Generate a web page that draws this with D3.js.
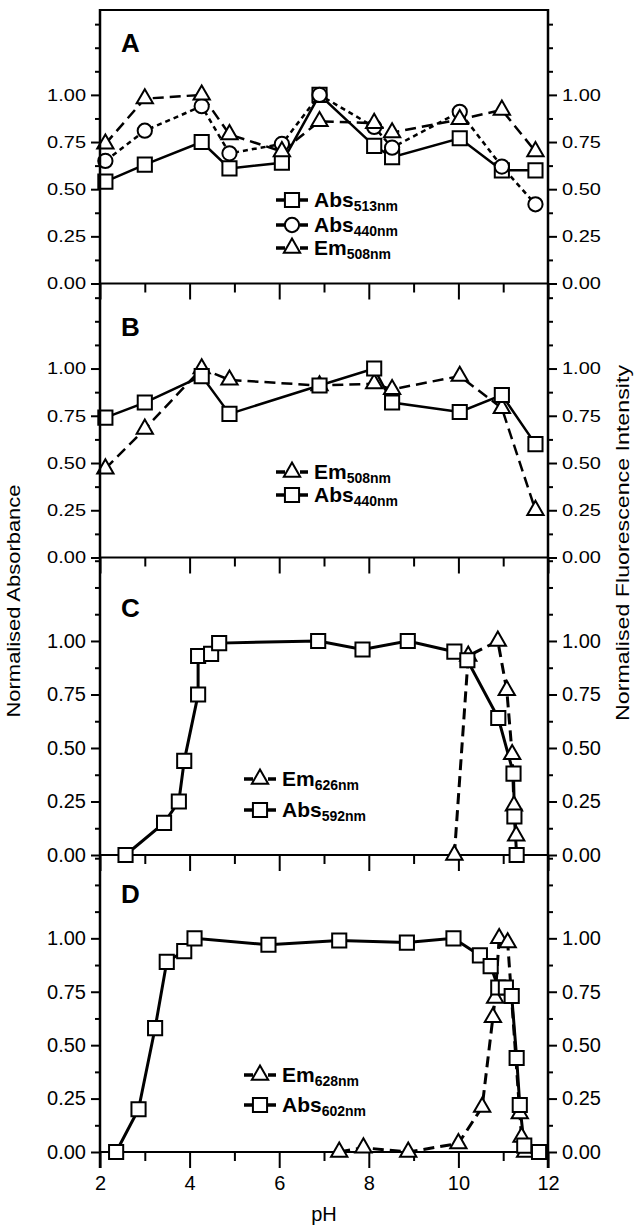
<!DOCTYPE html>
<html lang="en">
<head>
<meta charset="utf-8">
<title>pH profiles</title>
<script src="https://cdn.jsdelivr.net/npm/d3@7"></script>
<style>
  body { margin: 0; background: #fff; }
  svg text { font-family: "Liberation Sans", Arial, sans-serif; fill: #000; }
</style>
</head>
<body>
<div id="chart"></div>
<script>
// ---- values ----
var xTickValues = [2, 4, 6, 8, 10, 12];
var xMinorValues = [3, 5, 7, 9, 11];
var yTickValues = [0, 0.25, 0.5, 0.75, 1.0];

// panel A
var phA = [2.12, 3.0, 4.27, 4.89, 6.06, 6.9, 8.12, 8.52, 10.03, 10.97, 11.72];
var absA513 = [0.54, 0.63, 0.75, 0.61, 0.64, 1.00, 0.73, 0.67, 0.77, 0.60, 0.60];
var absA440 = [0.65, 0.81, 0.94, 0.69, 0.74, 1.00, 0.83, 0.72, 0.91, 0.62, 0.42];
var emA508 = [0.74, 0.98, 1.00, 0.79, 0.70, 0.86, 0.85, 0.80, 0.87, 0.92, 0.70];

// panel B
var phB = [2.12, 3.0, 4.27, 4.89, 6.9, 8.12, 8.52, 10.03, 10.97, 11.72];
var emB508 = [0.47, 0.68, 1.00, 0.94, 0.91, 0.92, 0.89, 0.96, 0.79, 0.25];
var absB440 = [0.74, 0.82, 0.96, 0.76, 0.91, 1.00, 0.82, 0.77, 0.86, 0.60];

// panel C
var phCabs = [2.57, 3.43, 3.76, 3.88, 4.19, 4.19, 4.48, 4.66, 6.87, 7.86, 8.87, 9.91, 10.2, 10.89, 11.23, 11.25, 11.3];
var absC592 = [0, 0.15, 0.25, 0.44, 0.75, 0.93, 0.94, 0.99, 1.0, 0.96, 1.0, 0.95, 0.91, 0.64, 0.38, 0.18, 0];
var phCem = [9.91, 10.22, 10.88, 11.08, 11.2, 11.24, 11.29];
var emC626 = [0, 0.93, 1.0, 0.77, 0.47, 0.23, 0.09];

// panel D
var phDabs = [2.36, 2.86, 3.23, 3.49, 3.88, 4.11, 5.76, 7.34, 8.85, 9.89, 10.48, 10.72, 10.89, 11.06, 11.19, 11.3, 11.37, 11.47, 11.8];
var absD602 = [0, 0.20, 0.58, 0.89, 0.94, 1.0, 0.97, 0.99, 0.98, 1.0, 0.92, 0.87, 0.77, 0.77, 0.73, 0.44, 0.22, 0.03, 0];
var phDem = [7.34, 7.88, 8.88, 10.0, 10.53, 10.77, 10.82, 10.91, 11.1, 11.37, 11.41, 11.49];
var emD628 = [0, 0.02, 0, 0.04, 0.21, 0.63, 0.72, 1.0, 0.98, 0.18, 0.07, 0];

// ---- layout ----
var W = 634, H = 1229;
var xLeft = 100, xRight = 548;

var svg = d3.select("#chart").append("svg")
  .attr("width", W).attr("height", H);

var x = d3.scaleLinear().domain([2, 12]).range([xLeft, xRight]);

// line styles
var SOLID = null, SHORT = "5,4", LONG = "11,6";
var symbols = { square: d3.symbolSquare, circle: d3.symbolCircle, triangle: d3.symbolTriangle };
var symSize = { square: 200, circle: 160, triangle: 115 };

function zip(xs, ys) { return xs.map(function(v, i) { return [v, ys[i]]; }); }

var panels = [
  { label: "A", top: 10, bottom: 283.5, yMax: 1.45, tickSy: 0.82, letterY: 52, lw: 2.5,
    legendX: 292, legendY: [200, 225, 248],
    series: [
      { name: "Abs", sub: "513nm", sym: "square", dash: SOLID, pts: zip(phA, absA513) },
      { name: "Abs", sub: "440nm", sym: "circle", dash: SHORT, pts: zip(phA, absA440) },
      { name: "Em", sub: "508nm", sym: "triangle", dash: LONG, pts: zip(phA, emA508) }
    ] },
  { label: "B", top: 283.5, bottom: 557.5, yMax: 1.45, tickSy: 0.82, letterY: 336, lw: 2.5,
    legendX: 292, legendY: [472, 495],
    series: [
      { name: "Em", sub: "508nm", sym: "triangle", dash: LONG, pts: zip(phB, emB508) },
      { name: "Abs", sub: "440nm", sym: "square", dash: SOLID, pts: zip(phB, absB440) }
    ] },
  { label: "C", top: 557.5, bottom: 855, yMax: 1.39, tickSy: 1, letterY: 617, lw: 3,
    legendX: 260, legendY: [779, 810],
    series: [
      { name: "Em", sub: "626nm", sym: "triangle", dash: LONG, pts: zip(phCem, emC626) },
      { name: "Abs", sub: "592nm", sym: "square", dash: SOLID, pts: zip(phCabs, absC592) }
    ] },
  { label: "D", top: 855, bottom: 1152, yMax: 1.39, tickSy: 1, letterY: 903, lw: 3,
    legendX: 260, legendY: [1075, 1105],
    series: [
      { name: "Em", sub: "628nm", sym: "triangle", dash: LONG, pts: zip(phDem, emD628) },
      { name: "Abs", sub: "602nm", sym: "square", dash: SOLID, pts: zip(phDabs, absD602) }
    ] }
];

function styleAxis(g, sy) {
  g.attr("font-size", null).attr("font-family", null);
  g.select(".domain").remove();
  g.selectAll(".tick line").attr("stroke", "#000").attr("stroke-width", 2);
  g.selectAll(".tick text")
    .style("font-size", "20px")
    .attr("transform", "scale(1," + sy + ")");
}

panels.forEach(function(p, pi) {
  var y = d3.scaleLinear().domain([0, p.yMax]).range([p.bottom, p.top]);
  var g = svg.append("g");
  var minorY = d3.range(0.125, p.yMax, 0.125).filter(function(v) {
    return Math.abs(v * 4 - Math.round(v * 4)) > 1e-6 || v > 1.01;
  });

  // left axis
  g.append("g").attr("transform", "translate(" + xLeft + ",0)")
    .call(d3.axisLeft(y).tickValues(yTickValues).tickFormat(d3.format(".2f")).tickSize(9).tickPadding(5).tickSizeOuter(0))
    .call(styleAxis, p.tickSy);
  g.append("g").attr("transform", "translate(" + xLeft + ",0)")
    .call(d3.axisLeft(y).tickValues(minorY).tickFormat("").tickSize(5).tickSizeOuter(0))
    .call(styleAxis, 1);

  // right axis
  g.append("g").attr("transform", "translate(" + xRight + ",0)")
    .call(d3.axisRight(y).tickValues(yTickValues).tickFormat(d3.format(".2f")).tickSize(9).tickPadding(5).tickSizeOuter(0))
    .call(styleAxis, p.tickSy);
  g.append("g").attr("transform", "translate(" + xRight + ",0)")
    .call(d3.axisRight(y).tickValues(minorY).tickFormat("").tickSize(5).tickSizeOuter(0))
    .call(styleAxis, 1);

  // bottom ticks of each panel, labels only on the last one
  var last = pi === panels.length - 1;
  g.append("g").attr("transform", "translate(0," + y(0) + ")")
    .call(d3.axisBottom(x).tickValues(xTickValues).tickSize(16).tickPadding(8)
      .tickFormat(last ? d3.format("d") : "").tickSizeOuter(0))
    .call(styleAxis, 1);
  g.append("g").attr("transform", "translate(0," + y(0) + ")")
    .call(d3.axisBottom(x).tickValues(xMinorValues).tickSize(9).tickFormat("").tickSizeOuter(0))
    .call(styleAxis, 1);

  // zero line
  g.append("line")
    .attr("x1", xLeft).attr("x2", xRight)
    .attr("y1", y(0)).attr("y2", y(0))
    .attr("stroke", "#000").attr("stroke-width", 2);

  // panel letter
  g.append("text")
    .attr("x", 121).attr("y", p.letterY)
    .style("font-size", "26px").style("font-weight", "bold")
    .text(p.label);

  var line = d3.line().x(function(d) { return x(d[0]); }).y(function(d) { return y(d[1]); });

  // lines first, then markers on top
  p.series.forEach(function(s) {
    g.append("path")
      .attr("d", line(s.pts))
      .attr("fill", "none").attr("stroke", "#000")
      .attr("stroke-width", p.lw)
      .attr("stroke-dasharray", s.dash);
  });
  p.series.forEach(function(s) {
    g.selectAll(null).data(s.pts).enter().append("path")
      .attr("d", d3.symbol().type(symbols[s.sym]).size(symSize[s.sym]))
      .attr("transform", function(d) { return "translate(" + x(d[0]) + "," + y(d[1]) + ")"; })
      .attr("fill", "#fff").attr("stroke", "#000").attr("stroke-width", 2);
  });

  // legend
  p.series.forEach(function(s, i) {
    var ly = p.legendY[i], lx = p.legendX;
    g.append("line")
      .attr("x1", lx - 16).attr("x2", lx + 16).attr("y1", ly).attr("y2", ly)
      .attr("stroke", "#000").attr("stroke-width", 3.5)
      .attr("stroke-dasharray", s.dash ? "9,3" : null);
    g.append("path")
      .attr("d", d3.symbol().type(symbols[s.sym]).size(symSize[s.sym]))
      .attr("transform", "translate(" + lx + "," + ly + ")")
      .attr("fill", "#fff").attr("stroke", "#000").attr("stroke-width", 2);
    var t = g.append("text")
      .attr("x", lx + 22).attr("y", ly + 7)
      .style("font-weight", "bold").style("font-size", "21px");
    t.append("tspan").text(s.name);
    t.append("tspan").attr("dy", 4).style("font-size", "14px").text(s.sub);
  });
});

// frame: top border and the two long vertical axes
svg.append("line").attr("x1", xLeft).attr("x2", xRight).attr("y1", 10).attr("y2", 10)
  .attr("stroke", "#000").attr("stroke-width", 2);
[xLeft, xRight].forEach(function(xx) {
  svg.append("line").attr("x1", xx).attr("x2", xx).attr("y1", 9).attr("y2", 1168)
    .attr("stroke", "#000").attr("stroke-width", 2.5);
});

// axis titles
svg.append("text")
  .attr("transform", "translate(" + 20 + "," + 601 + ") rotate(-90)")
  .attr("text-anchor", "middle")
  .attr("textLength", 233).attr("lengthAdjust", "spacingAndGlyphs")
  .style("font-size", "19px")
  .text("Normalised Absorbance");
svg.append("text")
  .attr("transform", "translate(" + 629 + "," + 543 + ") rotate(-90)")
  .attr("text-anchor", "middle")
  .attr("textLength", 356).attr("lengthAdjust", "spacingAndGlyphs")
  .style("font-size", "19px")
  .text("Normalised Fluorescence Intensity");
svg.append("text")
  .attr("x", 324).attr("y", 1221)
  .attr("text-anchor", "middle")
  .style("font-size", "20px")
  .text("pH");
</script>
</body>
</html>
